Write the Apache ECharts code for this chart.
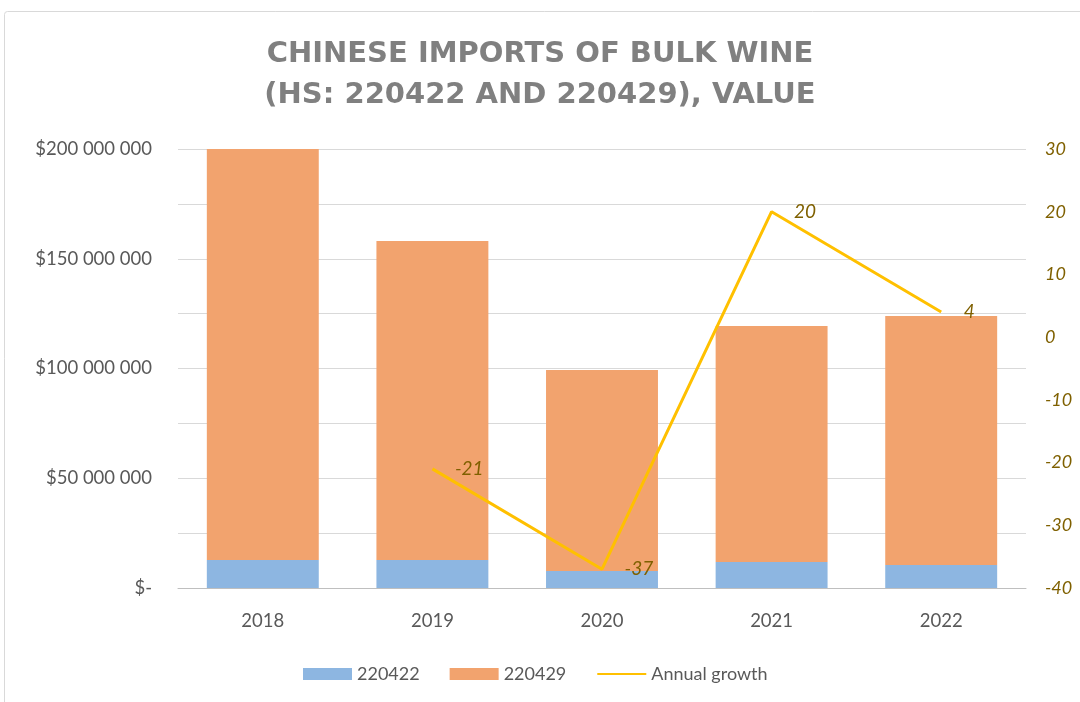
<!DOCTYPE html>
<html>
<head>
<meta charset="utf-8">
<script src="https://cdn.jsdelivr.net/npm/echarts@6/dist/echarts.min.js"></script>
<style>
  html, body { margin: 0; padding: 0; background: #fff; }
  #chart { width: 1080px; height: 702px; }
</style>
</head>
<body>
<div id="chart"></div>
<script>
var years = ["2018", "2019", "2020", "2021", "2022"];
var hs220422 = [12800000, 12800000, 7700000, 11800000, 10500000];
var hs220429 = [187200000, 145300000, 91600000, 107600000, 113400000];
var growth = [null, -21, -37, 20, 4];

function money(v) {
  if (v === 0) return "$-";
  if (v % 50000000 !== 0) return "";
  return "$" + String(v).replace(/\B(?=(\d{3})+(?!\d))/g, " ");
}

var myChart = echarts.init(document.getElementById("chart"));
var option = {
  backgroundColor: "#fff",
  textStyle: { fontFamily: "Lato" },
  graphic: [
    {
      type: "rect",
      shape: { x: 4.5, y: 11.5, width: 1100, height: 720, r: 3 },
      style: { fill: "none", stroke: "#d9d9d9", lineWidth: 1 },
      silent: true,
    },
  ],
  title: {
    text: "CHINESE IMPORTS OF BULK WINE\n(HS: 220422 AND 220429), VALUE",
    left: "center",
    top: 29,
    textStyle: {
      fontFamily: "DejaVu Sans",
      fontWeight: "bold",
      fontSize: 29,
      lineHeight: 41,
      color: "#808080",
    },
  },
  legend: {
    left: 298,
    top: 660,
    itemWidth: 49,
    itemHeight: 12,
    itemGap: 30,
    textStyle: { fontSize: 18, color: "#595959" },
    data: [
      { name: "220422", icon: "rect" },
      { name: "220429", icon: "rect" },
      { name: "Annual growth" },
    ],
  },
  grid: {
    left: 178,
    right: 54,
    top: 149,
    bottom: 114,
  },
  xAxis: {
    type: "category",
    data: years,
    axisLine: { lineStyle: { color: "#bfbfbf" } },
    axisTick: { show: false },
    axisLabel: { fontSize: 18.5, color: "#595959", margin: 24 },
  },
  yAxis: [
    {
      type: "value",
      min: 0,
      max: 200000000,
      interval: 25000000,
      axisLine: { show: false },
      axisTick: { show: false },
      axisLabel: {
        fontSize: 18.5,
        color: "#595959",
        margin: 26,
        formatter: money,
      },
      splitLine: { lineStyle: { color: "#d9d9d9" } },
    },
    {
      type: "value",
      min: -40,
      max: 30,
      interval: 10,
      axisLine: { show: false },
      axisTick: { show: false },
      splitLine: { show: false },
      axisLabel: {
        fontSize: 18,
        fontStyle: "italic",
        color: "#7f6000",
        margin: 19,
      },
    },
  ],
  series: [
    {
      name: "220422",
      type: "bar",
      stack: "value",
      barWidth: "66%",
      data: hs220422,
      itemStyle: { color: "#8db6e1" },
    },
    {
      name: "220429",
      type: "bar",
      stack: "value",
      data: hs220429,
      itemStyle: { color: "#f2a36e" },
    },
    {
      name: "Annual growth",
      type: "line",
      yAxisIndex: 1,
      data: growth,
      symbol: "circle",
      symbolSize: 1,
      lineStyle: { color: "#ffc000", width: 3 },
      itemStyle: { color: "#ffc000", opacity: 0 },
      label: {
        show: true,
        position: "right",
        distance: 22,
        fontSize: 19,
        fontStyle: "italic",
        color: "#7f6000",
        opacity: 1,
      },
    },
  ],
};
myChart.setOption(option);
</script>
</body>
</html>
